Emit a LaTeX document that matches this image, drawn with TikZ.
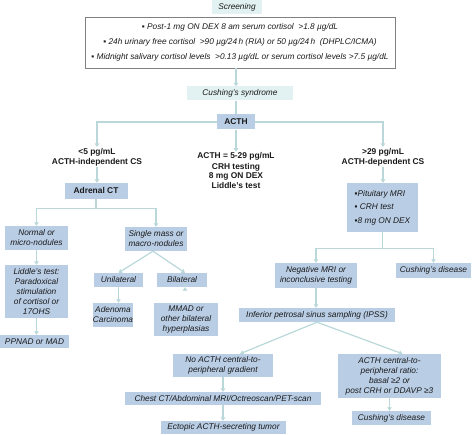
\documentclass[tikz,border=0pt]{standalone}
\usepackage{fontspec}
\setmainfont{Liberation Sans}
\usetikzlibrary{arrows.meta,calc}
\definecolor{boxblue}{HTML}{B9CDE5}
\definecolor{boxcyan}{HTML}{E2F1F1}
\definecolor{linec}{HTML}{BAD8D9}
\definecolor{txt}{HTML}{1A1A1A}
\definecolor{frame}{HTML}{808080}
\begin{document}
\begin{tikzpicture}[x=1pt,y=-1pt,
  base/.style={inner sep=0pt, align=center, text=txt, font=\fontsize{8.3}{10}\selectfont\itshape},
  bbox/.style={base, fill=boxblue},
  cbox/.style={base, fill=boxcyan},
  sz/.style 2 args={minimum width=#1pt, minimum height=#2pt},
  bfnt/.style={font=\fontsize{8.4}{10}\selectfont\bfseries},
  btxt/.style={inner sep=1pt, align=center, text=txt, bfnt},
  ln/.style={draw=linec, line width=1.2pt},
  arr/.style={ln, -{Triangle[width=4.5pt,length=3.5pt]}}
]
\useasboundingbox (0,0) rectangle (474,435);

% top
\node[cbox, sz={50}{14}] (scr) at (237,7) {Screening};
\node[base, draw=frame, line width=0.8pt, sz={310}{51}, font=\fontsize{8.3}{15}\selectfont\itshape] (big) at (240,42.5)
  {▪ Post-1 mg ON DEX 8 am serum cortisol\ \ >1.8 µg/dL\\
   ▪ 24h urinary free cortisol\ \ >90 µg/24\,h (RIA) or 50 µg/24\,h\ \ (DHPLC/ICMA)\\
   ▪ Midnight salivary cortisol levels\ \ >0.13 µg/dL or serum cortisol levels >7.5 µg/dL};
\node[cbox, sz={106}{14}] (cush) at (240,93.5) {Cushing's syndrome};
\node[bbox, sz={38}{15}, bfnt] (acth) at (236,122) {ACTH};

\node[btxt] (ltxt) at (97,157) {<5 pg/mL\\ACTH-independent CS};
\node[btxt] (mtxt) at (236,171) {ACTH = 5-29 pg/mL\\CRH testing\\8 mg ON DEX\\Liddle's test};
\node[btxt] (rtxt) at (383,157) {>29 pg/mL\\ACTH-dependent CS};

% left branch
\node[bbox, sz={63}{16}, bfnt] (adr) at (96,191) {Adrenal CT};
\node[bbox, sz={63}{24}] (norm) at (36.5,238) {Normal or\\micro-nodules};
\node[bbox, sz={62}{24}] (single) at (156,239) {Single mass or\\macro-nodules};
\node[bbox, sz={63}{53}] (lid) at (36.5,291.5) {Liddle's test:\\Paradoxical\\stimulation\\of cortisol or\\17OHS};
\node[bbox, sz={69}{13}] (ppnad) at (34.5,341.5) {PPNAD or MAD};
\node[bbox, sz={49}{14}] (uni) at (118.5,280) {Unilateral};
\node[bbox, sz={50}{14}] (bil) at (182,280) {Bilateral};
\node[bbox, sz={40}{24}] (aden) at (113,315) {Adenoma\\Carcinoma};
\node[bbox, sz={64}{33}] (mmad) at (186,319.5) {MMAD or\\other bilateral\\hyperplasias};

% right branch
\node[bbox, sz={71}{49}, align=left, font=\fontsize{8.3}{13.5}\selectfont\itshape] (pit) at (382.5,207.5)
  {▪Pituitary MRI\\ ▪ CRH test\\ ▪8 mg ON DEX};
\node[bbox, sz={82}{25}] (neg) at (316,275.5) {Negative MRI or\\inconclusive testing};
\node[bbox, sz={75}{15}] (cd1) at (433.5,270.5) {Cushing's disease};
\node[bbox, sz={156}{14}] (ipss) at (317,315) {Inferior petrosal sinus sampling (IPSS)};
\node[bbox, sz={100}{23}] (noacth) at (223,365.5) {No ACTH central-to-\\peripheral gradient};
\node[bbox, sz={103}{44}] (ratio) at (389.5,376) {ACTH central-to-\\peripheral ratio:\\basal ≥2 or\\post CRH or DDAVP ≥3};
\node[bbox, sz={196}{13}] (chest) at (223,398.5) {Chest CT/Abdominal MRI/Octreoscan/PET-scan};
\node[bbox, sz={125}{13}] (ect) at (223.5,427.5) {Ectopic ACTH-secreting tumor};
\node[bbox, sz={79}{14}] (cd2) at (391.5,418) {Cushing's disease};

% connectors
\draw[arr] (big.south -| acth) -- (cush.north -| acth);
\draw[ln] (cush.south -| acth) -- (acth.north);
\draw[arr] (acth.west) -| (ltxt.north);
\draw[arr] (acth.east) -| (rtxt.north);
\draw[arr] (acth.south) -- (mtxt.north);
\draw[arr] (ltxt.south) -- (ltxt.south |- adr.north);
\draw[arr] (rtxt.south) -- (rtxt.south |- pit.north);

\draw[ln] (adr.south) -- ++(0,9) coordinate (a1);
\draw[arr] (a1) -| (norm.north);
\draw[arr] (a1) -| (single.north);
\draw[arr] (norm.south) -- (lid.north);
\draw[arr] (lid.south) -- (lid.south |- ppnad.north);
\draw[arr] ($(single.south)+(-3,0)$) -- (uni.north);
\draw[arr] ($(single.south)+(-3,0)$) -- ($(bil.north)+(3,0)$);
\draw[arr] (uni.south) -- (uni.south |- aden.north);
\draw[arr] ($(bil.south)+(3,0)$) -- ($(bil.south)+(3,0)$ |- mmad.north);

\draw[ln] (pit.south) -- ++(0,16) coordinate (p1);
\draw[arr] (p1) -| (neg.north);
\draw[arr] (p1) -| (cd1.north);
\draw[arr] (neg.south) -- (neg.south |- ipss.north);
\draw[arr] (ipss.south) -- ($(noacth.north)+(17,0)$);
\draw[arr] (ipss.south) -- ($(ratio.north)+(13,0)$);
\draw[arr] (noacth.south) -- (noacth.south |- chest.north);
\draw[arr] (chest.south) -- (chest.south |- ect.north);
\draw[arr] (ratio.south) -- (ratio.south |- cd2.north);
\end{tikzpicture}
\end{document}
